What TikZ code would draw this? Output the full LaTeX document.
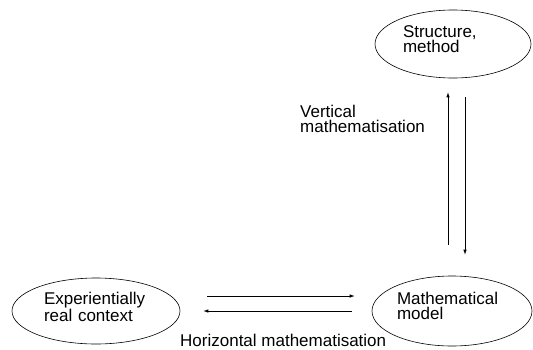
\documentclass[tikz,border=0pt]{standalone}
\usepackage{fontspec}
\setmainfont{Liberation Sans}
\usepackage{tikz}
\usetikzlibrary{shapes.geometric, arrows.meta, positioning}
\newcommand{\diagfont}{\fontsize{17}{15}\selectfont}

\begin{document}
\begin{tikzpicture}[x=1pt, y=1pt,
  oval/.style={
    ellipse, draw, line width=0.6pt, inner sep=0pt,
    text width=#1, text depth=25pt, align=left, font=\diagfont
  },
  oval/.default=104pt,
  caption/.style={
    anchor=north west, inner sep=0pt, align=left, font=\diagfont
  },
  arrow/.style={
    -{Latex[length=5pt, width=3.5pt]}, line width=0.7pt
  }
]
  \useasboundingbox (0,0) rectangle (533,-349);

  \node[oval=100pt, minimum width=156pt, minimum height=68pt] (struct) at (453,-44) {Structure,\\method};
  \node[oval, minimum width=168pt, minimum height=66pt] (real) at (96,-311) {Experientially\\real context};
  \node[oval=110pt, minimum width=160pt, minimum height=70pt] (model) at (452,-311) {Mathematical\\model};

  \node[caption] (vlabel) at (300,-105) {Vertical\\mathematisation};
  \node[caption] (hlabel) at (180,-334) {Horizontal mathematisation};

  % horizontal pair
  \draw[arrow] ([xshift=27pt, yshift=15pt]real.east) -- ([xshift=-17pt, yshift=15pt]model.west);
  \draw[arrow] ([xshift=-20pt]model.west) -- ([xshift=23pt]real.east);

  % vertical pair
  \draw[arrow] ([xshift=-4pt, yshift=31pt]model.north) -- ([xshift=-5pt, yshift=-14pt]struct.south);
  \draw[arrow] ([xshift=12pt, yshift=-19pt]struct.south) -- ([xshift=13pt, yshift=21pt]model.north);
\end{tikzpicture}
\end{document}
